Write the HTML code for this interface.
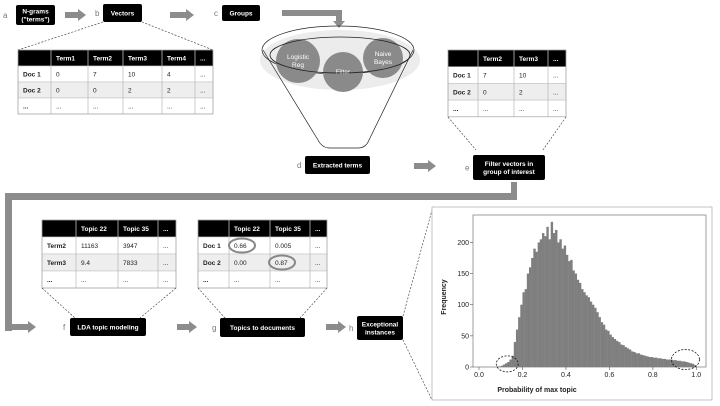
<!DOCTYPE html>
<html><head><meta charset="utf-8"><style>
html,body{margin:0;padding:0;background:#fff;}
svg{display:block;font-family:"Liberation Sans",sans-serif;}
</style></head><body>
<svg id="fig" width="720" height="406" viewBox="0 0 720 406" xmlns="http://www.w3.org/2000/svg">
<g id="static" font-size="7"></g>
<g id="hist"></g>
</svg>
<script>
// ===== Histogram data (bins of width 0.01 from 0.00 to 0.99) =====
const binStarts = [0.00,0.01,0.02,0.03,0.04,0.05,0.06,0.07,0.08,0.09,0.10,0.11,0.12,0.13,0.14,0.15,0.16,0.17,0.18,0.19,0.20,0.21,0.22,0.23,0.24,0.25,0.26,0.27,0.28,0.29,0.30,0.31,0.32,0.33,0.34,0.35,0.36,0.37,0.38,0.39,0.40,0.41,0.42,0.43,0.44,0.45,0.46,0.47,0.48,0.49,0.50,0.51,0.52,0.53,0.54,0.55,0.56,0.57,0.58,0.59,0.60,0.61,0.62,0.63,0.64,0.65,0.66,0.67,0.68,0.69,0.70,0.71,0.72,0.73,0.74,0.75,0.76,0.77,0.78,0.79,0.80,0.81,0.82,0.83,0.84,0.85,0.86,0.87,0.88,0.89,0.90,0.91,0.92,0.93,0.94,0.95,0.96,0.97,0.98,0.99];
const frequencies = [0,0,0,0,0,0,0,0,1,1,2,4,6,8,12,18,40,60,80,100,120,125,150,160,175,190,185,200,205,215,210,225,205,233,215,220,200,205,190,195,180,170,172,155,150,140,135,125,120,115,112,105,100,95,88,80,72,68,60,58,52,48,45,42,40,36,35,32,30,28,25,24,22,22,20,19,18,17,16,16,15,15,14,14,13,13,12,12,12,11,11,10,10,9,9,8,7,6,5,3];
const yTicks = [0,50,100,150,200];
const xTicks = [0.0,0.2,0.4,0.6,0.8,1.0];
const xTickLabels = ["0.0","0.2","0.4","0.6","0.8","1.0"];

const NS="http://www.w3.org/2000/svg";
function mk(parent,tag,attrs,text){const e=document.createElementNS(NS,tag);for(const k in attrs)e.setAttribute(k,attrs[k]);if(text!==undefined)e.textContent=text;parent.appendChild(e);return e;}
const S=document.getElementById('static');

function arrowH(x1,x2,y,name){const g=mk(S,'g',{});


mk(g,'rect',{x:x1,y:y-3,width:x2-x1-7,height:6,fill:'#8c8c8c'});
mk(g,'polygon',{points:`${x2-8},${y-6} ${x2},${y} ${x2-8},${y+6}`,fill:'#8c8c8c'});}
arrowH(65,86,15,'arrow-a-b');arrowH(170,194,15,'arrow-b-c');arrowH(414,436,166,'arrow-d-e');
arrowH(177,197,327,'arrow-f-g');arrowH(326,346,327,'arrow-g-h');
mk(S,'rect',{x:282,y:10,width:60,height:6,fill:'#8c8c8c'});
mk(S,'rect',{x:336,y:10,width:6,height:12,fill:'#8c8c8c'});
mk(S,'polygon',{points:'333,21 345,21 339,28',fill:'#8c8c8c'});
mk(S,'rect',{x:511,y:182,width:6,height:18,fill:'#8c8c8c'});
mk(S,'rect',{x:5,y:193,width:512,height:7,fill:'#8c8c8c'});
mk(S,'rect',{x:5,y:193,width:7,height:138,fill:'#8c8c8c'});
mk(S,'rect',{x:5,y:324,width:24,height:6,fill:'#8c8c8c'});
mk(S,'polygon',{points:'28,321 36,327 28,333',fill:'#8c8c8c'});

function box(x,y,w,h,lines,name,lab,lx){const g=mk(S,'g',{});


mk(g,'rect',{x,y,width:w,height:h,rx:2,fill:'#000'});
const n=lines.length;lines.forEach((l,i)=>mk(g,'text',{x:x+w/2,y:y+h/2+2.5+(i-(n-1)/2)*8,'text-anchor':'middle',fill:'#fff','font-weight':'bold','font-size':'6.5'},l));
if(lab){mk(g,'text',{x:lx,y:y+h/2+3,fill:'#777','font-size':'8'},lab);}}
box(16,5,39,20,['N-grams','("terms")'],'ngrams-box','a',3);
box(103,4,39,18,['Vectors'],'vectors-box','b',95);
box(222,5,38,16,['Groups'],'groups-box','c',214);
box(305,156,65,18,['Extracted terms'],'extracted-terms-box','d',297);
box(473,155,72,25,['Filter vectors in','group of interest'],'filter-vectors-box','e',465);
box(70,318,76,18,['LDA topic modeling'],'lda-box','f',63);
box(220,318,85,19,['Topics to documents'],'topics-docs-box','g',212);
box(357,316,46,24,['Exceptional','instances'],'exceptional-box','h',349);

function table(x,y,cols,rh,rows,name){const g=mk(S,'g',{});


const W=cols[cols.length-1]-cols[0];
rows.forEach((r,ri)=>{const yy=y+ri*rh;
mk(g,'rect',{x:cols[0],y:yy,width:W,height:rh,fill:ri===0?'#000':(ri===2?'#eeeeee':'#fff'),stroke:'#bbb','stroke-width':0.5});
r.forEach((c,ci)=>{mk(g,'text',{x:cols[ci]+5,y:yy+rh/2+2.5,fill:ri===0?'#fff':'#222','font-size':'6.5','font-weight':(ri===0||ci===0)?'bold':'normal'},c);
if(ci>0)mk(g,'line',{x1:cols[ci],y1:yy,x2:cols[ci],y2:yy+rh,stroke:ri===0?'#fff':'#aaa','stroke-width':0.6});});});
mk(g,'rect',{x:cols[0],y,width:W,height:rh*rows.length,fill:'none',stroke:'#999','stroke-width':0.6});}
table(18,50,[18,51,88,123,162,195,213],16,[['','Term1','Term2','Term3','Term4','...'],['Doc 1','0','7','10','4','...'],['Doc 2','0','0','2','2','...'],['...','...','...','...','...','...']],'vectors-table');
table(448,50,[448,478,514,548,566],16.7,[['','Term2','Term3','...'],['Doc 1','7','10','...'],['Doc 2','0','2','...'],['...','...','...','...']],'filtered-table');
table(42,220,[42,76,118,158,176],17,[['','Topic 22','Topic 35','...'],['Term2','11163','3947','...'],['Term3','9.4','7833','...'],['...','...','...','...']],'topic-term-table');
table(198,220,[198,229,270,310,327],17,[['','Topic 22','Topic 35','...'],['Doc 1','0.66','0.005','...'],['Doc 2','0.00','0.87','...'],['...','...','...','...']],'topic-doc-table');
mk(S,'ellipse',{cx:242,cy:245.5,rx:13,ry:7,fill:'none',stroke:'#888','stroke-width':2});
mk(S,'ellipse',{cx:282,cy:262.5,rx:13,ry:7,fill:'none',stroke:'#888','stroke-width':2});

const dl=[[103,22,18,50],[142,22,213,50],[448,117,476,150],[566,117,543,150],[42,288,75,318],[176,288,140,318],[198,288,225,318],[327,288,300,318],[403,316,432,210],[403,340,432,400]];
dl.forEach(d=>mk(S,'line',{x1:d[0],y1:d[1],x2:d[2],y2:d[3],stroke:'#333','stroke-width':0.6,'stroke-dasharray':'2,1.5'}));

const F=mk(S,'g',{});


mk(F,'ellipse',{cx:340,cy:60,rx:80,ry:30,fill:'#ececec'});
mk(F,'path',{d:'M263,50 L318,140 Q322,148 330,148 L358,148 Q366,148 369,140 L413,50',fill:'none',stroke:'#222','stroke-width':0.7});
mk(F,'ellipse',{cx:338,cy:50,rx:76,ry:24,fill:'none',stroke:'#222','stroke-width':0.7});
[[298,61,22,['Logistic','Reg']],[343,72,20,['Filter']],[383,58,20,['Naive','Bayes']]].forEach(c=>{
mk(F,'circle',{cx:c[0],cy:c[1],r:c[2],fill:'#8a8a8a'});
c[3].forEach((t,i)=>mk(F,'text',{x:c[0],y:c[1]+2+(i-(c[3].length-1)/2)*8,'text-anchor':'middle',fill:'#fff','font-size':'6.5'},t));});
mk(F,'ellipse',{cx:340,cy:55,rx:70,ry:18,fill:'none',stroke:'#222','stroke-width':0.8});

const H=document.getElementById('hist');
mk(H,'rect',{x:432,y:207,width:280,height:193,fill:'#fff',stroke:'#aaa','stroke-width':0.7});
const px0=473,px1=706,py0=215,py1=367;
const xs=v=>479+v*217.3, ys=v=>367-v*0.623;
mk(H,'rect',{x:px0,y:py0,width:px1-px0,height:py1-py0,fill:'#fff',stroke:'#888','stroke-width':0.8});
const bw=xs(0.01)-xs(0);
binStarts.forEach((b,i)=>{const r=mk(H,'rect',{x:xs(b),y:ys(frequencies[i]),width:bw+0.2,height:ys(0)-ys(frequencies[i]),fill:'#7f7f7f'});

});
yTicks.forEach(t=>{mk(H,'line',{x1:px0-3,y1:ys(t),x2:px0,y2:ys(t),stroke:'#555','stroke-width':0.6});
const l=mk(H,'text',{x:px0-4,y:ys(t)+2.5,'text-anchor':'end','font-size':'7',fill:'#222'},String(t));

});
xTicks.forEach((t,i)=>{mk(H,'line',{x1:xs(t),y1:py1,x2:xs(t),y2:py1+3,stroke:'#555','stroke-width':0.6});
const l=mk(H,'text',{x:xs(t),y:py1+10,'text-anchor':'middle','font-size':'7',fill:'#222'},xTickLabels[i]);

});
const xt=mk(H,'text',{x:537,y:392,'text-anchor':'middle','font-size':'7',fill:'#222','font-weight':'bold'},'Probability of max topic');


const yt=mk(H,'text',{x:0,y:0,transform:'translate(446,297) rotate(-90)','text-anchor':'middle','font-size':'7',fill:'#222','font-weight':'bold'},'Frequency');


mk(H,'ellipse',{cx:xs(0.13),cy:ys(5),rx:11,ry:8,fill:'none',stroke:'#111','stroke-width':0.8,'stroke-dasharray':'2,1.5'});
mk(H,'ellipse',{cx:xs(0.95),cy:ys(12),rx:14,ry:10,fill:'none',stroke:'#111','stroke-width':0.8,'stroke-dasharray':'2,1.5'});
</script>
</body></html>
